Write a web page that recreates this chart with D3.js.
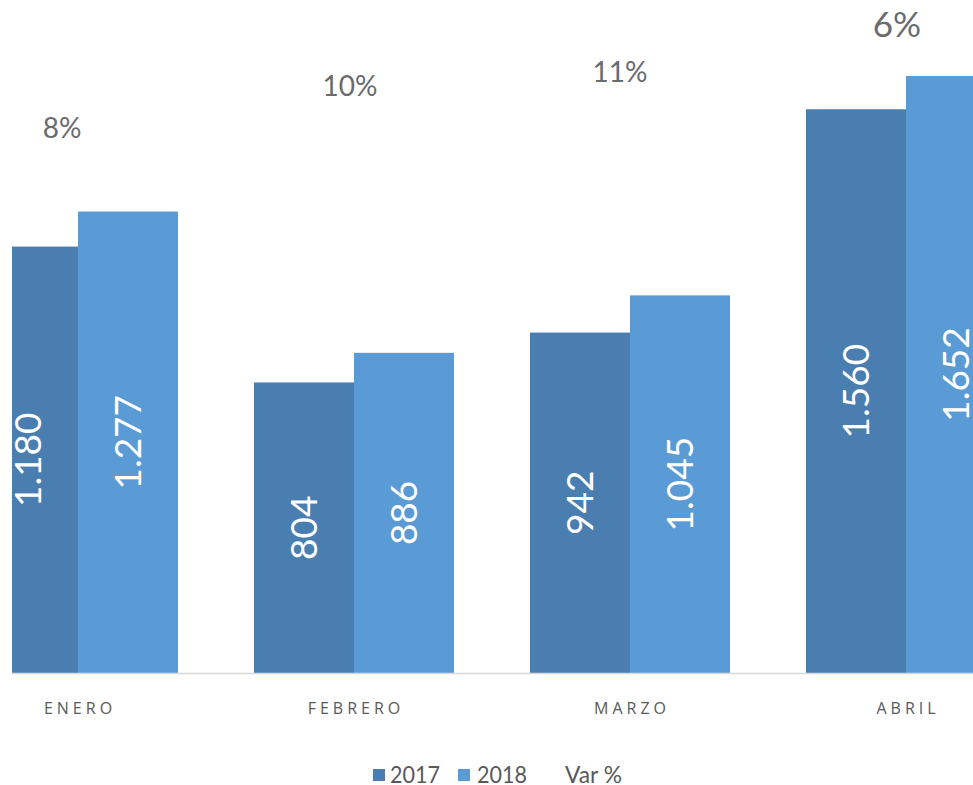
<!DOCTYPE html>
<html>
<head>
<meta charset="utf-8">
<script src="https://cdn.jsdelivr.net/npm/d3@7"></script>
<style>
  body { margin: 0; background: #fff; }
  svg { display: block; }
</style>
</head>
<body>
<svg id="chart" width="973" height="785"></svg>
<script>
// data
const months = ["ENERO", "FEBRERO", "MARZO", "ABRIL"];
const values2017 = [1180, 804, 942, 1560];
const values2018 = [1277, 886, 1045, 1652];
const varPct = ["8%", "10%", "11%", "6%"];
const legendLabels = ["2017", "2018", "Var %"];

const width = 973, height = 785;
const baseY = 673;
const colors = {"2017": "#4a7eb0", "2018": "#5b9bd5"};

// the Var % labels sit at fixed spots in the original
const varLabelY = [138, 96, 82, 37];
const varLabelDx = [-16, -4, -10, -9];
const varLabelSize = [28, 28, 28, 35];

const svg = d3.select("#chart");

// x: one band per month, each band holds two bars
let x = d3.scaleBand()
    .domain(months)
    .range([-60, 1044])
    .paddingInner(76 / 276)
    .paddingOuter(38 / 276);

let xSub = d3.scaleBand()
    .domain(["2017", "2018"])
    .range([0, x.bandwidth()]);

let y = d3.scaleLinear()
    .domain([0, 1652])
    .range([baseY, 76]);

// plot area is cut on the left side
svg.append("clipPath").attr("id", "plotClip")
  .append("rect")
    .attr("x", 12).attr("y", 0)
    .attr("width", width - 12).attr("height", baseY);

let rows = [];
for (let i = 0; i < months.length; ++i) {
    rows.push({month: months[i], year: "2017", value: values2017[i]});
    rows.push({month: months[i], year: "2018", value: values2018[i]});
}

// bars
svg.append("g")
    .attr("clip-path", "url(#plotClip)")
  .selectAll("rect")
  .data(rows)
  .enter()
  .append("rect")
    .attr("x", d => x(d.month) + xSub(d.year))
    .attr("y", d => y(d.value))
    .attr("width", xSub.bandwidth())
    .attr("height", d => baseY - y(d.value))
    .attr("fill", d => colors[d.year]);

// value labels, rotated, centered in each bar
svg.append("g")
  .selectAll("text")
  .data(rows)
  .enter()
  .append("text")
    .attr("transform", d => {
        let cx = x(d.month) + xSub(d.year) + xSub.bandwidth() / 2;
        let cy = (y(d.value) + baseY) / 2;
        return "translate(" + cx + "," + cy + ") rotate(-90)";
    })
    .attr("text-anchor", "middle")
    .attr("dy", "0.36em")
    .style("font-family", "Lato, 'Open Sans', sans-serif")
    .style("font-size", "37px")
    .style("fill", "#ffffff")
    .text(d => d3.format(",")(d.value).replace(",", "."));

// axis line
svg.append("line")
    .attr("x1", 12).attr("x2", width)
    .attr("y1", baseY + 0.5).attr("y2", baseY + 0.5)
    .attr("stroke", "#d9d9d9")
    .attr("stroke-width", 1.5);

// category labels
const xAxis = svg.append("g")
    .attr("transform", "translate(0," + baseY + ")")
    .call(d3.axisBottom(x).tickSize(0).tickPadding(30));
xAxis.select(".domain").remove();
xAxis.selectAll("text")
    .attr("dx", "2px")
    .style("font-family", "'Open Sans', 'DejaVu Sans', sans-serif")
    .style("font-size", "16px")
    .style("letter-spacing", "4px")
    .style("fill", "#595959");

// Var % labels
svg.append("g")
  .selectAll("text")
  .data(varPct)
  .enter()
  .append("text")
    .attr("x", (d, i) => x(months[i]) + x.bandwidth() / 2 + varLabelDx[i])
    .attr("y", (d, i) => varLabelY[i])
    .attr("text-anchor", "middle")
    .style("font-family", "Lato, 'Open Sans', sans-serif")
    .style("font-size", (d, i) => varLabelSize[i] + "px")
    .style("fill", "#6b6b6b")
    .text(d => d);

// legend
const legendSq = [373, 458];
const legendTx = [390, 477, 565];
const legendLen = [50, 50, 57];
const legend = svg.append("g");
legendLabels.forEach((lab, i) => {
    if (i < 2) {
        legend.append("rect")
            .attr("x", legendSq[i]).attr("y", 769)
            .attr("width", 12).attr("height", 12)
            .attr("fill", colors[lab]);
    }
    legend.append("text")
        .attr("x", legendTx[i])
        .attr("y", 783)
        .attr("textLength", legendLen[i])
        .attr("lengthAdjust", "spacingAndGlyphs")
        .style("font-family", "Lato, 'Open Sans', sans-serif")
        .style("font-size", "23px")
        .style("fill", "#595959")
        .text(lab);
});
</script>
</body>
</html>
